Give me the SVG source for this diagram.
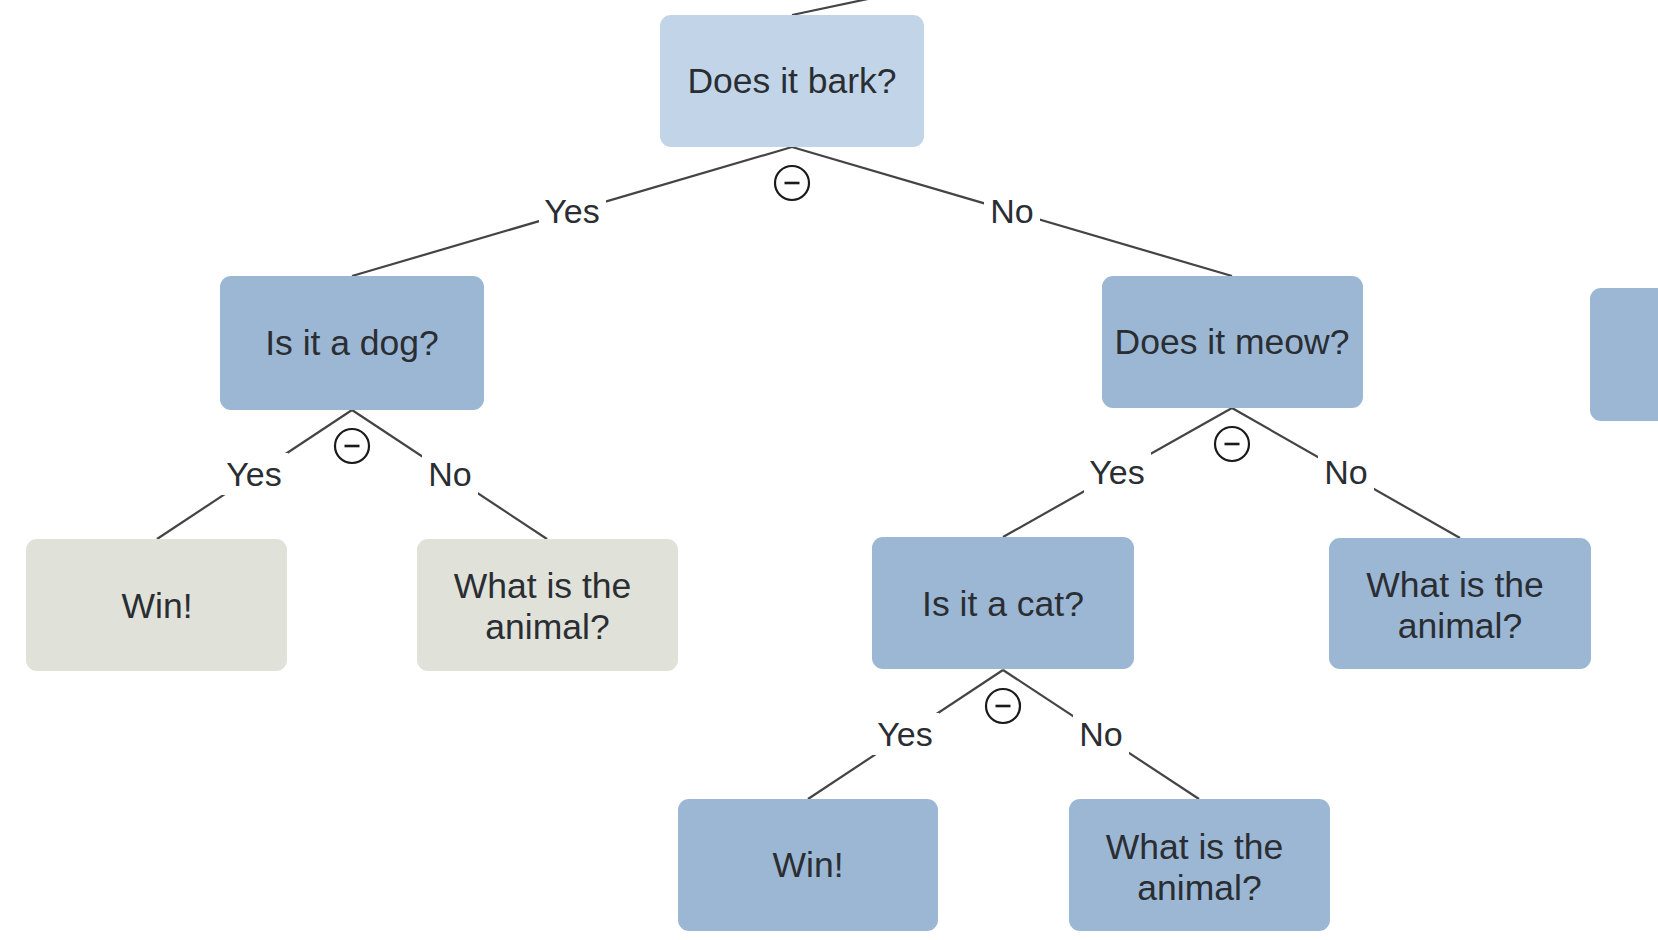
<svg xmlns="http://www.w3.org/2000/svg" width="1658" height="940" viewBox="0 0 1658 940">
<style>
.box{stroke:none}
.root{fill:#c2d5e8}
.q{fill:#9cb7d3}
.leaf{fill:#e0e2da}
.t{font-family:"Liberation Sans",Arial,sans-serif;font-size:35.5px;fill:#2a2e33;text-anchor:middle}
.lbl{font-family:"Liberation Sans",Arial,sans-serif;font-size:34px;fill:#2a2e33;text-anchor:middle}
.edge{stroke:#444444;stroke-width:2.2;fill:none}
.lbg{fill:#ffffff}
.tog circle{fill:#ffffff;stroke:#1a1a1a;stroke-width:2.2}
.tog line{stroke:#1a1a1a;stroke-width:2.6}
</style>
<rect width="1658" height="940" fill="#ffffff"/>
<g id="connectors">
  <line class="edge" x1="792" y1="15" x2="934" y2="-15"/>
  <line class="edge" x1="792" y1="147" x2="352" y2="276"/>
  <line class="edge" x1="792" y1="147" x2="1232" y2="276"/>
  <line class="edge" x1="352" y1="410" x2="157" y2="539"/>
  <line class="edge" x1="352" y1="410" x2="547" y2="539"/>
  <line class="edge" x1="1232" y1="408" x2="1003" y2="537"/>
  <line class="edge" x1="1232" y1="408" x2="1460" y2="538"/>
  <line class="edge" x1="1003" y1="670" x2="808" y2="799"/>
  <line class="edge" x1="1003" y1="670" x2="1199" y2="799"/>
  <rect class="lbg" x="539" y="191" width="67" height="42"/>
  <text class="lbl" x="572" y="223">Yes</text>
  <rect class="lbg" x="984" y="191" width="56" height="42"/>
  <text class="lbl" x="1012" y="223">No</text>
  <rect class="lbg" x="221" y="453" width="67" height="42"/>
  <text class="lbl" x="254" y="486">Yes</text>
  <rect class="lbg" x="422" y="453" width="56" height="42"/>
  <text class="lbl" x="450" y="486">No</text>
  <rect class="lbg" x="1084" y="452" width="67" height="42"/>
  <text class="lbl" x="1117" y="484">Yes</text>
  <rect class="lbg" x="1318" y="452" width="56" height="42"/>
  <text class="lbl" x="1346" y="484">No</text>
  <rect class="lbg" x="872" y="713" width="67" height="42"/>
  <text class="lbl" x="905" y="746">Yes</text>
  <rect class="lbg" x="1073" y="713" width="56" height="42"/>
  <text class="lbl" x="1101" y="746">No</text>
  <g class="tog"><circle cx="792" cy="183" r="17"/><line x1="784.5" y1="183" x2="799.5" y2="183"/></g>
  <g class="tog"><circle cx="352" cy="446" r="17"/><line x1="344.5" y1="446" x2="359.5" y2="446"/></g>
  <g class="tog"><circle cx="1232" cy="444" r="17"/><line x1="1224.5" y1="444" x2="1239.5" y2="444"/></g>
  <g class="tog"><circle cx="1003" cy="706" r="17"/><line x1="995.5" y1="706" x2="1010.5" y2="706"/></g>
</g>
<g id="n-bark">
  <rect class="box root" x="660" y="15" width="264" height="132" rx="11"/>
  <text class="t" x="792" y="93">Does it bark?</text>
</g>
<g id="n-dog">
  <rect class="box q" x="220" y="276" width="264" height="134" rx="11"/>
  <text class="t" x="352" y="355">Is it a dog?</text>
</g>
<g id="n-meow">
  <rect class="box q" x="1102" y="276" width="261" height="132" rx="11"/>
  <text class="t" x="1232" y="354">Does it meow?</text>
</g>
<g id="n-partial">
  <rect class="box q" x="1590" y="288" width="262" height="133" rx="11"/>
</g>
<g id="n-win1">
  <rect class="box leaf" x="26" y="539" width="261" height="132" rx="11"/>
  <text class="t" x="157" y="618">Win!</text>
</g>
<g id="n-what1">
  <rect class="box leaf" x="417" y="539" width="261" height="132" rx="11"/>
  <text class="t" x="542.5" y="598">What is the</text>
  <text class="t" x="547.5" y="639">animal?</text>
</g>
<g id="n-cat">
  <rect class="box q" x="872" y="537" width="262" height="132" rx="11"/>
  <text class="t" x="1003" y="616">Is it a cat?</text>
</g>
<g id="n-what2">
  <rect class="box q" x="1329" y="538" width="262" height="131" rx="11"/>
  <text class="t" x="1455" y="597">What is the</text>
  <text class="t" x="1460" y="638">animal?</text>
</g>
<g id="n-win2">
  <rect class="box q" x="678" y="799" width="260" height="132" rx="11"/>
  <text class="t" x="808" y="877">Win!</text>
</g>
<g id="n-what3">
  <rect class="box q" x="1069" y="799" width="261" height="132" rx="11"/>
  <text class="t" x="1194.5" y="859">What is the</text>
  <text class="t" x="1199.5" y="900">animal?</text>
</g>
</svg>
